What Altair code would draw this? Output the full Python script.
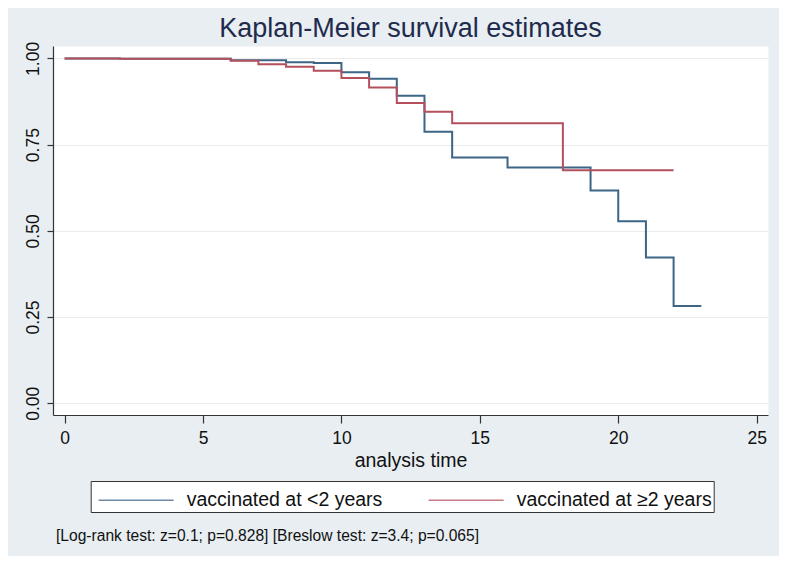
import altair as alt
import pandas as pd

# Kaplan-Meier step values
time_lt2 = [0, 2, 6, 8, 9, 10, 11, 12, 13, 14, 16, 19, 20, 21, 22, 23]
surv_lt2 = [1.000, 0.999, 0.995, 0.989, 0.987, 0.960, 0.941, 0.892, 0.787, 0.713,
            0.684, 0.617, 0.528, 0.423, 0.282, 0.282]
time_ge2 = [0, 2, 6, 7, 8, 9, 10, 11, 12, 13, 14, 18, 22]
surv_ge2 = [1.000, 0.999, 0.993, 0.983, 0.976, 0.964, 0.943, 0.916, 0.871, 0.845,
            0.812, 0.676, 0.676]

groups = ["vaccinated at <2 years", "vaccinated at \u22652 years"]
colors = ["#3D6586", "#B4505C"]
x_ticks = [0, 5, 10, 15, 20, 25]
y_ticks = [0.0, 0.25, 0.5, 0.75, 1.0]
title_text = "Kaplan-Meier survival estimates"
x_title = "analysis time"
footnote = "[Log-rank test: z=0.1; p=0.828] [Breslow test: z=3.4; p=0.065]"

FONT = "Liberation Sans"

df = pd.concat([
    pd.DataFrame({"time": time_lt2, "surv": surv_lt2, "group": groups[0]}),
    pd.DataFrame({"time": time_ge2, "surv": surv_ge2, "group": groups[1]}),
], ignore_index=True)

lines = alt.Chart(df).mark_line(interpolate="step-after", strokeWidth=2).encode(
    x=alt.X("time:Q",
            scale=alt.Scale(domain=[-0.42, 25.41], nice=False, zero=False),
            axis=alt.Axis(values=x_ticks, title=x_title, grid=False, tickSize=8,
                          labelPadding=6, labelFontSize=17.5, labelFont=FONT,
                          labelColor="#111111", titleFont=FONT, titleFontSize=19.5,
                          titleFontWeight="normal", titleColor="#111111",
                          titleY=51, titleBaseline="alphabetic",
                          domainColor="#333333", domainWidth=1.2,
                          tickColor="#333333", tickWidth=1.2, labelFlush=False)),
    y=alt.Y("surv:Q",
            scale=alt.Scale(domain=[-0.034, 1.036], nice=False, zero=False),
            axis=alt.Axis(values=y_ticks, format=".2f", title=None, grid=True,
                          gridColor="#EBEBEB", gridWidth=1, tickSize=6,
                          labelAngle=270, labelAlign="center",
                          labelBaseline="alphabetic", labelPadding=9,
                          labelFontSize=17.5, labelFont=FONT, labelColor="#111111",
                          domainColor="#333333", domainWidth=1.2,
                          tickColor="#333333", tickWidth=1.2, labelFlush=False)),
    color=alt.Color("group:N",
                    scale=alt.Scale(domain=groups, range=colors),
                    legend=alt.Legend(title=None, orient="none", legendX=37.7,
                                      legendY=435, direction="horizontal",
                                      symbolType="M-0.69,0L4,0", symbolSize=1024,
                                      symbolStrokeWidth=1.6, symbolOpacity=0.75,
                                      labelFontSize=19.5,
                                      labelFont=FONT, labelColor="#111111",
                                      labelOffset=60, columnPadding=40, padding=2,
                                      strokeColor="#333333", fillColor="white",
                                      labelLimit=400)),
)

title = alt.Chart(pd.DataFrame({"t": [title_text]})).mark_text(
    align="center", baseline="alphabetic", fontSize=27, font=FONT, color="#1F2B4D"
).encode(text="t:N", x=alt.value(357.5), y=alt.value(-9))

note = alt.Chart(pd.DataFrame({"note": [footnote]})).mark_text(
    align="left", baseline="alphabetic", fontSize=15.6, font=FONT, color="#111111"
).encode(text="note:N", x=alt.value(3), y=alt.value(495))

chart = alt.layer(lines, title, note).properties(
    width=715,
    height=369,
    padding={"left": 45, "top": 38, "right": 11, "bottom": 141},
    autosize=alt.AutoSizeParams(type="none"),
    background="#E8EEF2",
).configure_view(fill="white", stroke="transparent")

chart.save("out.html", embed_options={"renderer": "svg", "actions": False})
